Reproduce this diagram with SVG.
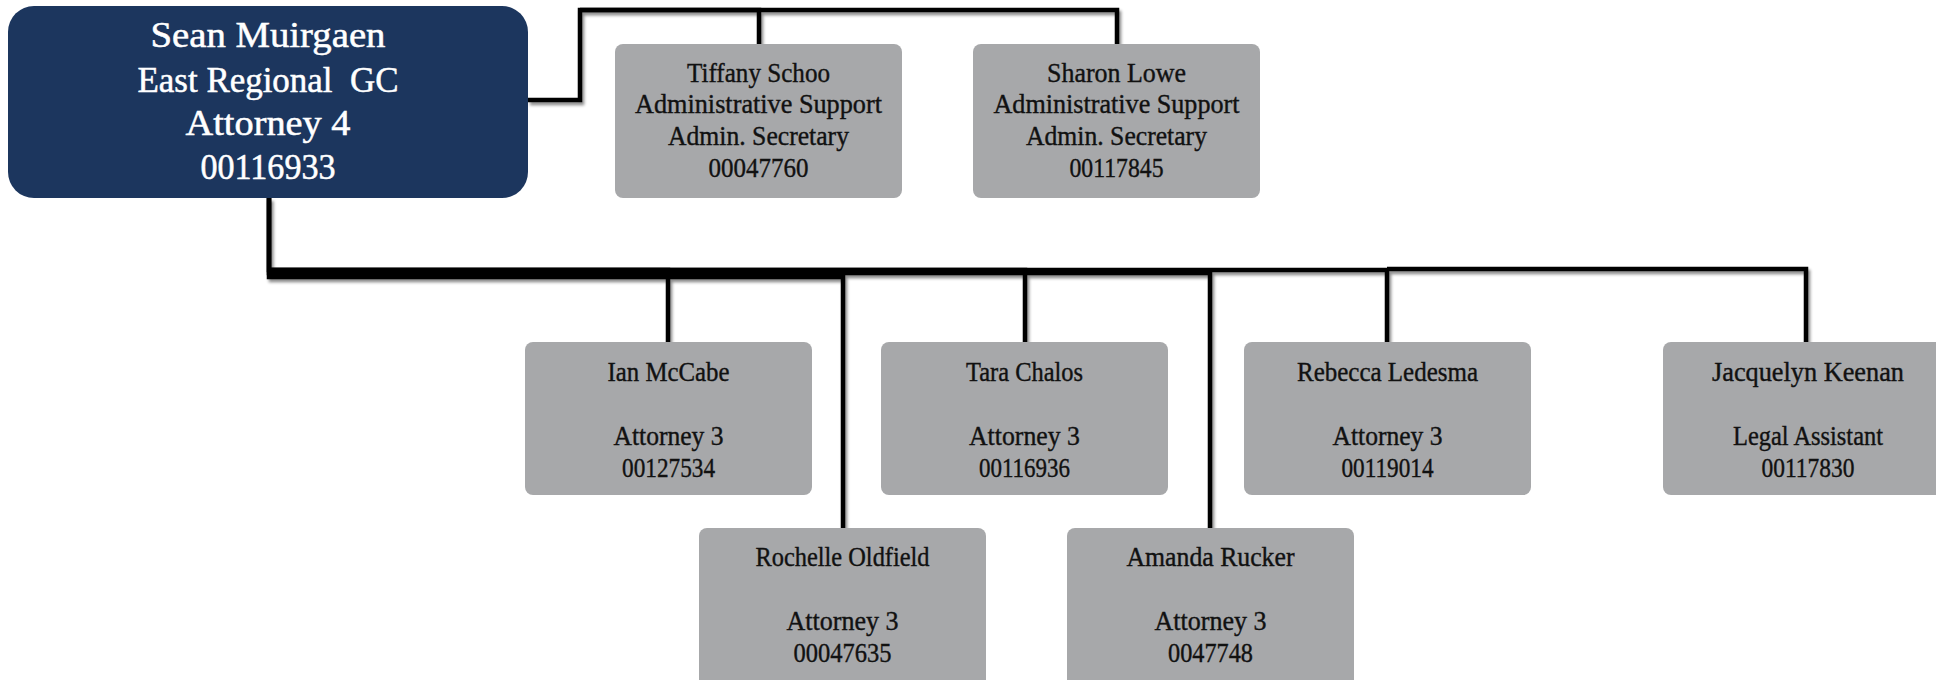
<svg xmlns="http://www.w3.org/2000/svg" width="1936" height="680" viewBox="0 0 1936 680">
<style>
.root{fill:#1C365E}
.box{fill:#A7A8AA}
.rt{font-family:"Liberation Serif","Times New Roman",serif;font-size:35px;fill:#FFFFFF;stroke:#FFFFFF;stroke-width:0.5;text-anchor:middle}
.t{font-family:"Liberation Serif","Times New Roman",serif;font-size:28px;fill:#111111;stroke:#111111;stroke-width:0.4;text-anchor:middle}
.c{fill:none;stroke:#000000;stroke-width:4.5;stroke-linejoin:miter}
</style>
<defs>
<filter id="sh" x="-5%" y="-20%" width="110%" height="140%">
<feDropShadow dx="2" dy="3" stdDeviation="1.8" flood-color="#000000" flood-opacity="0.45"/>
</filter>
</defs>
<rect width="1936" height="680" fill="#FFFFFF"/>
<g id="connectors" filter="url(#sh)">
<path class="c" d="M528 100 H580 V10 H759 V44"/>
<path class="c" d="M580 10 H1117 V44"/>
<path class="c" d="M269 198 V277 H843 V528"/>
<path class="c" d="M269 198 V273 H1210 V528"/>
<path class="c" d="M269 198 V270 H668 V342"/>
<path class="c" d="M269 270 H1025 V342"/>
<path class="c" d="M269 270 H1387 V342"/>
<path class="c" d="M1387 269 H1806 V342"/>
</g>
<g id="node-sean">
<rect class="root" x="8" y="6" width="520" height="192" rx="26"/>
<text class="rt" x="268" y="47" textLength="235" lengthAdjust="spacingAndGlyphs">Sean Muirgaen</text>
<text class="rt" x="268" y="92" textLength="261" lengthAdjust="spacingAndGlyphs" xml:space="preserve">East Regional  GC</text>
<text class="rt" x="268" y="135" textLength="165" lengthAdjust="spacingAndGlyphs">Attorney 4</text>
<text class="rt" x="268" y="179" textLength="135" lengthAdjust="spacingAndGlyphs">00116933</text>
</g>
<g id="node-tiffany">
<rect class="box" x="615" y="44" width="287" height="154" rx="8"/>
<text class="t" x="758.5" y="82" textLength="143" lengthAdjust="spacingAndGlyphs">Tiffany Schoo</text>
<text class="t" x="758.5" y="113" textLength="247" lengthAdjust="spacingAndGlyphs">Administrative Support</text>
<text class="t" x="758.5" y="145" textLength="181" lengthAdjust="spacingAndGlyphs">Admin. Secretary</text>
<text class="t" x="758.5" y="177" textLength="100" lengthAdjust="spacingAndGlyphs">00047760</text>
</g>
<g id="node-sharon">
<rect class="box" x="973" y="44" width="287" height="154" rx="8"/>
<text class="t" x="1116.5" y="82" textLength="139" lengthAdjust="spacingAndGlyphs">Sharon Lowe</text>
<text class="t" x="1116.5" y="113" textLength="246" lengthAdjust="spacingAndGlyphs">Administrative Support</text>
<text class="t" x="1116.5" y="145" textLength="181" lengthAdjust="spacingAndGlyphs">Admin. Secretary</text>
<text class="t" x="1116.5" y="177" textLength="94" lengthAdjust="spacingAndGlyphs">00117845</text>
</g>
<g id="node-ian">
<rect class="box" x="525" y="342" width="287" height="153" rx="8"/>
<text class="t" x="668.5" y="381" textLength="122" lengthAdjust="spacingAndGlyphs">Ian McCabe</text>
<text class="t" x="668.5" y="445" textLength="110" lengthAdjust="spacingAndGlyphs">Attorney 3</text>
<text class="t" x="668.5" y="477" textLength="93" lengthAdjust="spacingAndGlyphs">00127534</text>
</g>
<g id="node-tara">
<rect class="box" x="881" y="342" width="287" height="153" rx="8"/>
<text class="t" x="1024.5" y="381" textLength="117" lengthAdjust="spacingAndGlyphs">Tara Chalos</text>
<text class="t" x="1024.5" y="445" textLength="111" lengthAdjust="spacingAndGlyphs">Attorney 3</text>
<text class="t" x="1024.5" y="477" textLength="91" lengthAdjust="spacingAndGlyphs">00116936</text>
</g>
<g id="node-rebecca">
<rect class="box" x="1244" y="342" width="287" height="153" rx="8"/>
<text class="t" x="1387.5" y="381" textLength="181" lengthAdjust="spacingAndGlyphs">Rebecca Ledesma</text>
<text class="t" x="1387.5" y="445" textLength="110" lengthAdjust="spacingAndGlyphs">Attorney 3</text>
<text class="t" x="1387.5" y="477" textLength="92" lengthAdjust="spacingAndGlyphs">00119014</text>
</g>
<g id="node-jacquelyn">
<rect class="box" x="1663" y="342" width="287" height="153" rx="8"/>
<text class="t" x="1808" y="381" textLength="192" lengthAdjust="spacingAndGlyphs">Jacquelyn Keenan</text>
<text class="t" x="1808" y="445" textLength="150" lengthAdjust="spacingAndGlyphs">Legal Assistant</text>
<text class="t" x="1808" y="477" textLength="93" lengthAdjust="spacingAndGlyphs">00117830</text>
</g>
<g id="node-rochelle">
<rect class="box" x="699" y="528" width="287" height="160" rx="8"/>
<text class="t" x="842.5" y="566" textLength="174" lengthAdjust="spacingAndGlyphs">Rochelle Oldfield</text>
<text class="t" x="842.5" y="630" textLength="112" lengthAdjust="spacingAndGlyphs">Attorney 3</text>
<text class="t" x="842.5" y="662" textLength="98" lengthAdjust="spacingAndGlyphs">00047635</text>
</g>
<g id="node-amanda">
<rect class="box" x="1067" y="528" width="287" height="160" rx="8"/>
<text class="t" x="1210.5" y="566" textLength="168" lengthAdjust="spacingAndGlyphs">Amanda Rucker</text>
<text class="t" x="1210.5" y="630" textLength="112" lengthAdjust="spacingAndGlyphs">Attorney 3</text>
<text class="t" x="1210.5" y="662" textLength="85" lengthAdjust="spacingAndGlyphs">0047748</text>
</g>
</svg>
